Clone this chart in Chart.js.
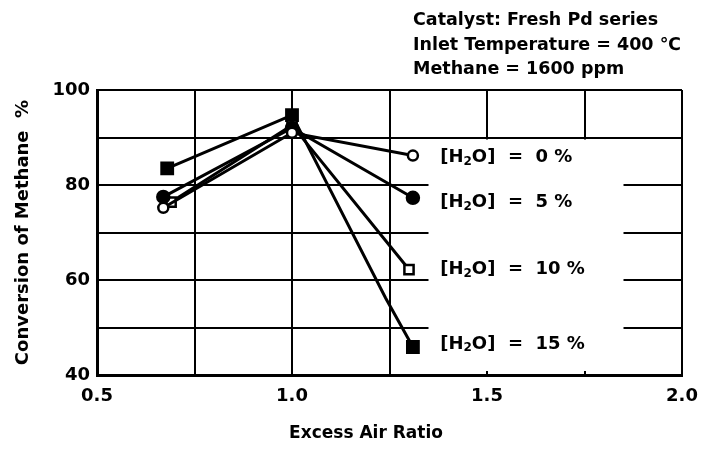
<!DOCTYPE html>
<html>
<head>
<meta charset="utf-8">
<script src="https://cdn.jsdelivr.net/npm/chart.js@4/dist/chart.umd.min.js"></script>
<style>
  html, body { margin: 0; padding: 0; background: #fff; }
  #wrap { width: 701px; height: 450px; position: relative; }
</style>
</head>
<body>
<div id="wrap"><canvas id="c" width="701" height="450"></canvas></div>
<script>
// ---- data ----
const seriesNames = ['0 %', '5 %', '10 %', '15 %'];
const h2o0x  = [0.67, 1.00, 1.31];
const h2o0y  = [75.2, 91.0, 86.2];
const h2o5x  = [0.67, 1.00, 1.31];
const h2o5y  = [77.5, 92.0, 77.3];
const h2o10x = [0.69, 1.00, 1.30];
const h2o10y = [76.4, 92.6, 62.2];
const h2o15x = [0.68, 1.00, 1.24, 1.31];
const h2o15y = [83.5, 94.7, 56.2, 45.9];
const xTickLabels = ['0.5', '1.0', '1.5', '2.0'];
const yTickLabels = ['40', '60', '80', '100'];
const noteLines = ['Catalyst: Fresh Pd series', 'Inlet Temperature = 400 \u2103', 'Methane = 1600 ppm'];
const xTitle = 'Excess Air Ratio';
const yTitle = 'Conversion of Methane  %';

function pts(xs, ys) { return xs.map((x, i) => ({ x: x, y: ys[i] })); }

const FONT = '"DejaVu Sans", Arial, sans-serif';

const blankBox = {
  id: 'blankBox',
  beforeDatasetsDraw(chart) {
    const { ctx, scales: { x, y } } = chart;
    ctx.save();
    ctx.fillStyle = '#fff';
    const x0 = x.getPixelForValue(1.35), x1 = x.getPixelForValue(1.85);
    const y0 = y.getPixelForValue(90) + 2, y1 = y.getPixelForValue(40) - 4;
    ctx.fillRect(x0, y0, x1 - x0, y1 - y0);
    ctx.restore();
  }
};

const labelsPlugin = {
  id: 'labelsPlugin',
  afterDraw(chart) {
    const { ctx, scales: { x, y } } = chart;
    ctx.save();
    ctx.fillStyle = '#000';
    // notes top right
    ctx.font = 'bold 17.5px ' + FONT;
    ctx.textBaseline = 'middle';
    ctx.textAlign = 'left';
    const noteY = [20, 45, 69];
    noteLines.forEach((t, i) => ctx.fillText(t, 413, noteY[i]));
    // series labels
    const lastYs = [h2o0y[h2o0y.length - 1], h2o5y[h2o5y.length - 1], h2o10y[h2o10y.length - 1], h2o15y[h2o15y.length - 1]];
    const dy = [2, 5, 0, -3];
    seriesNames.forEach((name, i) => {
      let px = x.getPixelForValue(1.38);
      const py = y.getPixelForValue(lastYs[i]) + dy[i];
      ctx.font = 'bold 18px ' + FONT;
      ctx.fillText('[H', px, py); px += ctx.measureText('[H').width;
      ctx.font = 'bold 12px ' + FONT;
      ctx.fillText('2', px, py + 4); px += ctx.measureText('2').width;
      ctx.font = 'bold 18px ' + FONT;
      ctx.fillText('O]  =  ' + name, px, py);
    });
    // x title
    ctx.font = 'bold 17px ' + FONT;
    ctx.textAlign = 'center';
    ctx.fillText(xTitle, 366, 434);
    ctx.restore();
  }
};

const common = { borderColor: '#000', borderWidth: 3, showLine: true, pointBorderWidth: 2.5, pointBorderColor: '#000' };

new Chart(document.getElementById('c'), {
  type: 'scatter',
  data: {
    datasets: [
      Object.assign({ data: pts(h2o0x, h2o0y), pointStyle: 'circle', pointRadius: 5, pointBackgroundColor: '#fff' }, common),
      Object.assign({ data: pts(h2o5x, h2o5y), pointStyle: 'circle', pointRadius: 6, pointBackgroundColor: '#000' }, common),
      Object.assign({ data: pts(h2o10x, h2o10y), pointStyle: 'rect', pointRadius: 6.5, pointBackgroundColor: '#fff' }, common),
      Object.assign({ data: pts(h2o15x, h2o15y), pointStyle: 'rect', pointRadius: [8, 8, 0, 8], pointBackgroundColor: '#000' }, common)
    ]
  },
  options: {
    responsive: false,
    animation: false,
    events: [],
    layout: { padding: { left: 0, top: 90, right: 19, bottom: 0 } },
    plugins: { legend: { display: false }, tooltip: { enabled: false } },
    scales: {
      x: {
        type: 'linear', min: 0.5, max: 2.0,
        afterFit(s) { s.height = 75; s.paddingLeft = 0; s.paddingRight = 0; },
        grid: { color: '#000', lineWidth: 2, drawTicks: false },
        border: { color: '#000', width: 3 },
        ticks: {
          stepSize: 0.25, padding: 11, color: '#000',
          font: { family: FONT, size: 18, weight: 'bold' },
          callback(v) { const s = Number(v).toFixed(1); return xTickLabels.includes(s) && Math.abs(v * 2 - Math.round(v * 2)) < 1e-6 ? s : ''; }
        }
      },
      y: {
        type: 'linear', min: 40, max: 100,
        afterFit(s) { s.width = 97; s.paddingTop = 0; s.paddingBottom = 0; },
        grid: { color: '#000', lineWidth: 2, drawTicks: false },
        border: { color: '#000', width: 3 },
        title: { display: true, text: yTitle, color: '#000', font: { family: FONT, size: 18, weight: 'bold' }, padding: { top: 13, bottom: 0 } },
        ticks: {
          stepSize: 10, padding: 7, color: '#000',
          font: { family: FONT, size: 18, weight: 'bold' },
          callback(v) { const s = String(v); return yTickLabels.includes(s) ? s : ''; }
        }
      }
    }
  },
  plugins: [blankBox, labelsPlugin]
});
</script>
</body>
</html>
